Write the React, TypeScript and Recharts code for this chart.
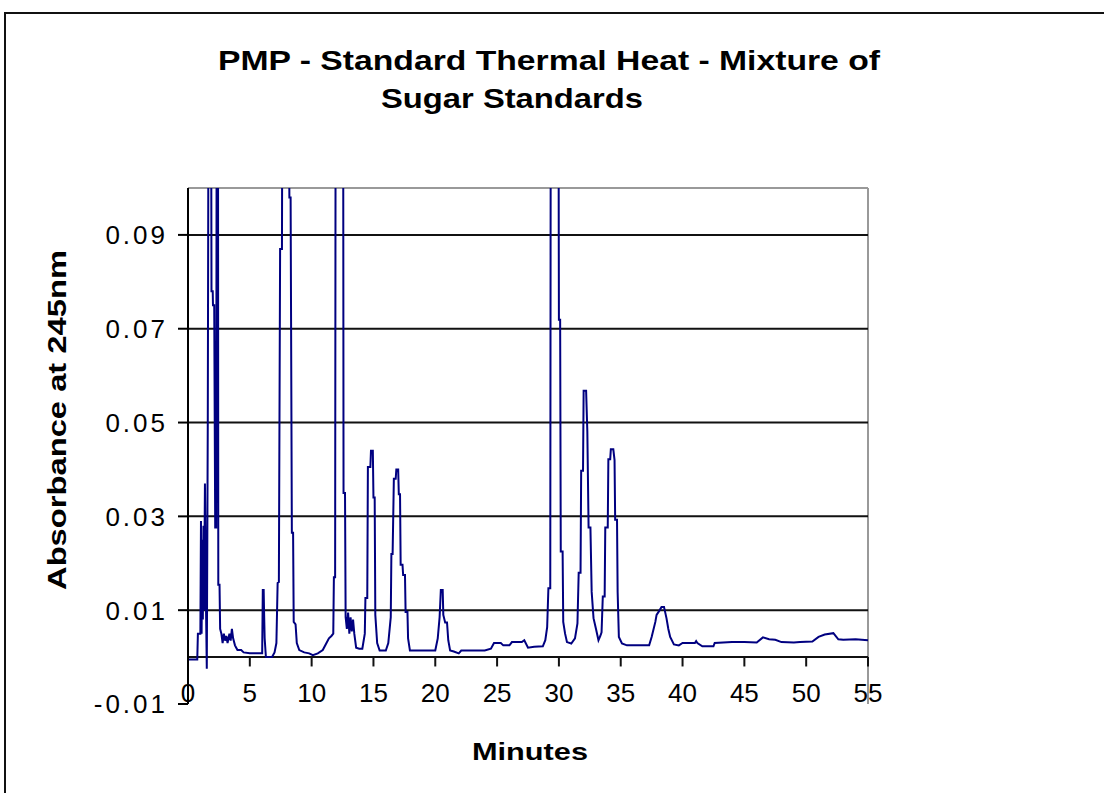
import React from "react";
import { LineChart, Line, XAxis, YAxis, ReferenceLine } from "recharts";

const FONT = "'Liberation Sans', Arial, sans-serif";

// chromatogram trace (values above 0.1 are clipped peaks)
const minutes = [
  0, 0.75, 0.8, 1.0, 1.05, 1.1, 1.15, 1.2, 1.25, 1.3,
  1.37, 1.45, 1.52, 1.6, 1.68, 1.85, 1.9, 2.0, 2.02, 2.12,
  2.2, 2.28, 2.33, 2.42, 2.45, 2.55, 2.6, 2.7, 2.8, 2.9,
  3.0, 3.1, 3.2, 3.35, 3.45, 3.55, 3.65, 3.8, 3.9, 4.0,
  4.3, 4.5, 5.0, 6.0, 6.05, 6.12, 6.15, 6.2, 6.3, 6.8,
  7.0, 7.15, 7.25, 7.35, 7.45, 7.6, 7.65, 8.1, 8.2, 8.3,
  8.4, 8.5, 8.55, 8.7, 8.8, 9.0, 9.4, 9.8, 10.1, 10.5,
  10.9, 11.2, 11.4, 11.6, 11.75, 11.8, 11.9, 11.95, 12.54, 12.58,
  12.7, 12.75, 12.85, 12.95, 13.05, 13.15, 13.25, 13.35, 13.45, 13.6,
  13.85, 14.1, 14.3, 14.35, 14.5, 14.55, 14.75, 14.8, 14.95, 15.0,
  15.1, 15.15, 15.3, 15.5, 16.0, 16.2, 16.4, 16.45, 16.55, 16.65,
  16.8, 16.85, 17.0, 17.05, 17.15, 17.2, 17.35, 17.4, 17.55, 17.6,
  17.75, 17.8, 17.95, 20.0, 20.2, 20.35, 20.45, 20.6, 20.65, 20.8,
  20.95, 21.05, 21.2, 21.5, 21.9, 22.1, 24.0, 24.5, 24.75, 25.3,
  25.5, 26.0, 26.2, 27.0, 27.2, 27.5, 28.0, 28.7, 28.9, 29.05,
  29.15, 29.3, 29.35, 29.95, 30.0, 30.1, 30.15, 30.3, 30.35, 30.5,
  30.65, 31.0, 31.3, 31.5, 31.6, 31.75, 31.8, 31.95, 32.0, 32.2,
  32.3, 32.4, 32.55, 32.65, 32.8, 33.0, 33.2, 33.35, 33.45, 33.55,
  33.7, 33.75, 33.95, 34.0, 34.15, 34.2, 34.4, 34.5, 34.55, 34.7,
  34.75, 34.85, 35.1, 35.5, 37.3, 37.5, 37.8, 37.9, 38.1, 38.3,
  38.5, 38.7, 38.85, 39.0, 39.3, 39.7, 40.0, 41.0, 41.1, 41.2,
  41.6, 42.5, 42.6, 44.0, 45.0, 46.0, 46.5, 47.0, 47.5, 48.0,
  49.0, 49.5, 50.5, 51.0, 51.5, 52.2, 52.6, 53.0, 54.0, 55.0,
];

const absorbance = [
  -0.0005, -0.0005, 0.005, 0.005, 0.029, 0.005, 0.025, 0.008, 0.028, 0.01,
  0.037, 0.012, -0.0025, 0.05, 0.15, 0.15, 0.078, 0.078, 0.075, 0.075,
  0.0276, 0.0276, 0.15, 0.15, 0.0154, 0.0154, 0.006, 0.005, 0.003, 0.005,
  0.0035, 0.0045, 0.003, 0.005, 0.0035, 0.006, 0.004, 0.0025, 0.002, 0.0015,
  0.0015, 0.001, 0.0008, 0.0008, 0.0143, 0.0143, 0.01, 0.004, 0.0, 0.0,
  0.001, 0.003, 0.0158, 0.016, 0.087, 0.087, 0.15, 0.15, 0.098, 0.098,
  0.0265, 0.0265, 0.0075, 0.007, 0.003, 0.0015, 0.001, 0.0008, 0.0004, 0.0008,
  0.0015, 0.003, 0.004, 0.0045, 0.005, 0.017, 0.017, 0.15, 0.15, 0.035,
  0.035, 0.0085, 0.006, 0.0095, 0.005, 0.0085, 0.0055, 0.008, 0.005, 0.002,
  0.0018, 0.0018, 0.005, 0.0126, 0.0126, 0.0405, 0.0405, 0.044, 0.044, 0.034,
  0.034, 0.009, 0.003, 0.0014, 0.0014, 0.003, 0.0085, 0.022, 0.022, 0.038,
  0.038, 0.04, 0.04, 0.0347, 0.0347, 0.0197, 0.0197, 0.0175, 0.0175, 0.0096,
  0.0096, 0.004, 0.0014, 0.0014, 0.004, 0.0085, 0.0143, 0.0143, 0.009, 0.0074,
  0.0074, 0.0036, 0.0014, 0.0012, 0.0008, 0.0014, 0.0014, 0.0018, 0.003, 0.003,
  0.0025, 0.0025, 0.0032, 0.0032, 0.0036, 0.002, 0.0022, 0.0023, 0.0036, 0.0064,
  0.0147, 0.0147, 0.15, 0.15, 0.0719, 0.0719, 0.0225, 0.0225, 0.0075, 0.005,
  0.0032, 0.0029, 0.004, 0.0072, 0.018, 0.018, 0.0397, 0.0397, 0.0568, 0.0568,
  0.048, 0.0276, 0.0276, 0.0139, 0.0083, 0.006, 0.0036, 0.0045, 0.0053, 0.0129,
  0.0129, 0.0276, 0.0276, 0.0422, 0.0422, 0.0443, 0.0443, 0.042, 0.0293, 0.0293,
  0.0139, 0.0043, 0.0029, 0.0025, 0.0025, 0.0043, 0.0075, 0.009, 0.0098, 0.0107,
  0.0107, 0.0083, 0.006, 0.0043, 0.0027, 0.0025, 0.003, 0.003, 0.0034, 0.003,
  0.0023, 0.0023, 0.003, 0.0032, 0.0032, 0.0031, 0.0042, 0.0038, 0.0037, 0.0032,
  0.0031, 0.0032, 0.0033, 0.0043, 0.0048, 0.0051, 0.0038, 0.0037, 0.0038, 0.0036,
];

const xTicks = [0, 5, 10, 15, 20, 25, 30, 35, 40, 45, 50, 55];
const yTicks = [-0.01, 0.01, 0.03, 0.05, 0.07, 0.09];
const gridValues = [0.01, 0.03, 0.05, 0.07, 0.09];

const data = minutes.map((m, i) => ({ minutes: m, absorbance: absorbance[i] }));

const XTick = (props: any) => {
  const { x, y, payload } = props;
  return (
    <text x={x} y={y - 2} textAnchor="middle" fontSize={26} fill="#000" fontFamily={FONT}>
      {payload.value}
    </text>
  );
};

const YTick = (props: any) => {
  const { x, y, payload } = props;
  return (
    <text x={x} y={y} dy="0.36em" textAnchor="end" fontSize={26} letterSpacing={3} fill="#000" fontFamily={FONT}>
      {String(payload.value)}
    </text>
  );
};

export default function App() {
  return (
    <div style={{ position: "absolute", left: 0, top: 0, width: 1104, height: 793, background: "#fff", overflow: "hidden" }}>
      <div style={{ position: "absolute", left: 4, top: 12, width: 1200, height: 900, border: "2px solid #111" }} />
      <LineChart
        width={1104}
        height={793}
        data={data}
        margin={{ top: 188, right: 236, bottom: 59, left: 88 }}
        style={{ position: "absolute", left: 0, top: 0 }}
      >
        <XAxis
          type="number"
          dataKey="minutes"
          domain={[0, 55]}
          ticks={xTicks}
          interval={0}
          height={30}
          axisLine={false}
          tickLine={false}
          tickSize={0}
          tickMargin={0}
          tick={<XTick />}
        />
        <YAxis
          type="number"
          domain={[-0.01, 0.1]}
          ticks={yTicks}
          interval={0}
          allowDataOverflow
          width={100}
          tickSize={10}
          tickMargin={10}
          axisLine={{ stroke: "#000", strokeWidth: 2 }}
          tickLine={{ stroke: "#000", strokeWidth: 2 }}
          tick={<YTick />}
        />
        <ReferenceLine y={0.1} stroke="#999" strokeWidth={2} />
        <ReferenceLine x={55} stroke="#999" strokeWidth={2} />
        {gridValues.map((v) => (
          <ReferenceLine key={v} y={v} stroke="#111" strokeWidth={2} />
        ))}
        <ReferenceLine y={0} stroke="#111" strokeWidth={2} />
        {xTicks.slice(1).map((t) => (
          <ReferenceLine
            key={"t" + t}
            segment={[{ x: t, y: 0 }, { x: t, y: -0.002 }]}
            stroke="#111"
            strokeWidth={2}
            ifOverflow="visible"
          />
        ))}
        <Line
          type="linear"
          dataKey="absorbance"
          stroke="#000080"
          strokeWidth={2}
          dot={false}
          isAnimationActive={false}
        />
      </LineChart>
      <svg width={1104} height={793} style={{ position: "absolute", left: 0, top: 0, pointerEvents: "none" }}>
        <g fontFamily={FONT} fontWeight="bold" fill="#000">
          <text x={549} y={70} fontSize={28} textAnchor="middle" textLength={662} lengthAdjust="spacingAndGlyphs">
            PMP - Standard Thermal Heat - Mixture of
          </text>
          <text x={512} y={108} fontSize={28} textAnchor="middle" textLength={262} lengthAdjust="spacingAndGlyphs">
            Sugar Standards
          </text>
          <text x={530} y={760} fontSize={24} textAnchor="middle" textLength={116} lengthAdjust="spacingAndGlyphs">
            Minutes
          </text>
          <text
            transform="translate(66, 420) rotate(-90)"
            fontSize={26}
            textAnchor="middle"
            textLength={340}
            lengthAdjust="spacingAndGlyphs"
          >
            Absorbance at 245nm
          </text>
        </g>
      </svg>
    </div>
  );
}
